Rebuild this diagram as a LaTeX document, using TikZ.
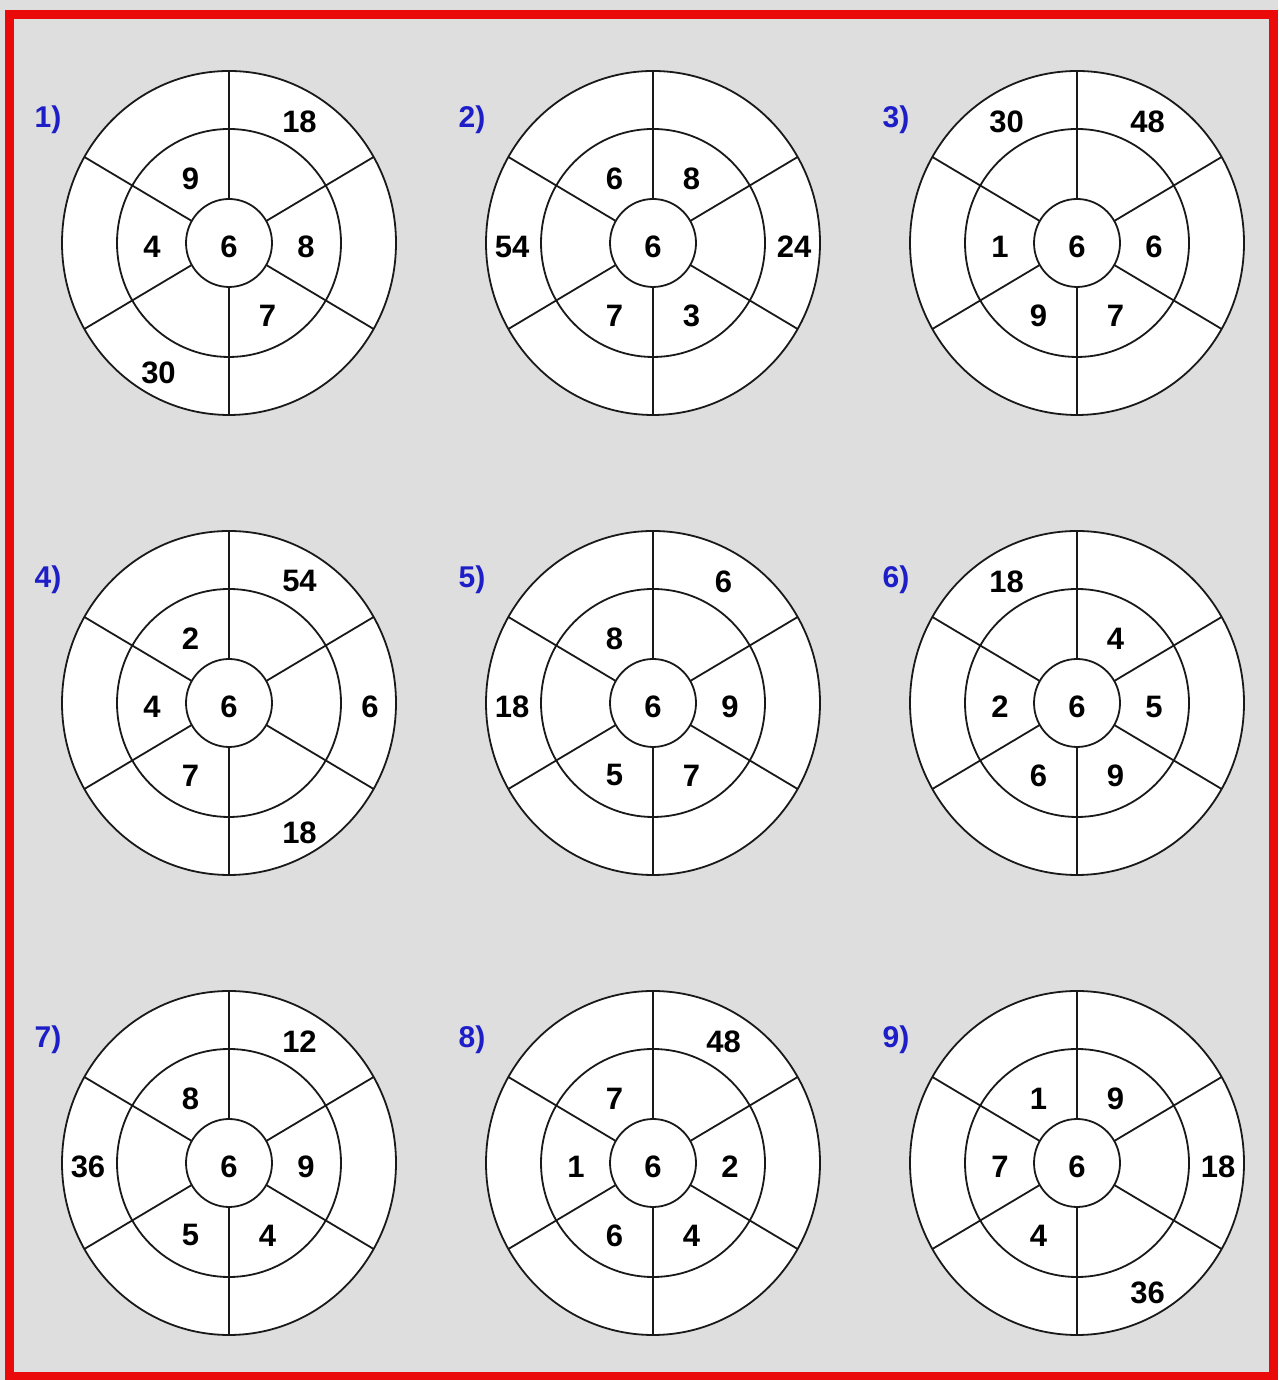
\documentclass[tikz,border=0pt]{standalone}
\usepackage{fontspec}
\setmainfont{Liberation Sans}
\usetikzlibrary{calc}
\definecolor{paper}{RGB}{222,222,222}
\definecolor{tagblue}{RGB}{30,30,200}
\definecolor{framered}{RGB}{235,10,10}

\begin{document}
\begin{tikzpicture}[
    x=1pt, y=1pt,
    ring/.style={draw=black!90, line width=1.8pt, fill=white},
    spoke/.style={draw=black!90, line width=1.8pt},
    num/.style={font=\fontsize{31}{36}\selectfont\bfseries, inner sep=0pt, yshift=-4pt},
    tag/.style={font=\fontsize{30}{36}\selectfont\bfseries, text=tagblue, inner sep=0pt, yshift=-2pt},
    wheel/.pic={
      \draw[ring] (0,0) ellipse [x radius=167pt, y radius=172pt];
      \draw[ring] (0,0) ellipse [x radius=112pt, y radius=114pt];
      \draw[ring] (0,0) ellipse [x radius=43pt, y radius=44pt];
      \foreach \a in {90,30,-30,-90,-150,150}
        \draw[spoke] (\a:43pt and 44pt) -- (\a:167pt and 172pt);
    }
]
\useasboundingbox (0,0) rectangle (1278,1380);
% Background and frame
\fill[paper] (0,0) rectangle (1278,1380);
\draw[framered, line width=9pt] (9.5,3) rectangle (1273.5,1365);
% Wheels
\foreach \i/\cx/\cy in {1/229/1137, 2/653/1137, 3/1077/1137,
                        4/229/677, 5/653/677, 6/1077/677,
                        7/229/217, 8/653/217, 9/1077/217} {
  \coordinate (w\i) at (\cx,\cy);
  \pic at (w\i) {wheel};
  \node[num] (w\i c) at (w\i) {6};
  \node[tag] (t\i) at ($(w\i)+(-181,125)$) {\i)};
}
% Middle ring numbers
\foreach \w/\a/\t in {1/120/9, 1/0/8, 1/-60/7, 1/180/4,
                      2/120/6, 2/60/8, 2/-60/3, 2/-120/7,
                      3/180/1, 3/0/6, 3/-120/9, 3/-60/7,
                      4/120/2, 4/180/4, 4/-120/7,
                      5/120/8, 5/0/9, 5/-120/5, 5/-60/7,
                      6/60/4, 6/180/2, 6/0/5, 6/-120/6, 6/-60/9,
                      7/120/8, 7/0/9, 7/-120/5, 7/-60/4,
                      8/120/7, 8/180/1, 8/0/2, 8/-120/6, 8/-60/4,
                      9/120/1, 9/60/9, 9/180/7, 9/-120/4}
  \node[num] (w\w m\a) at ($(w\w)+(\a:77pt and 79pt)$) {\t};
% Outer ring numbers
\foreach \w/\a/\t in {1/60/18, 1/-120/30,
                      2/180/54, 2/0/24,
                      3/120/30, 3/60/48,
                      4/60/54, 4/0/6, 4/-60/18,
                      5/60/6, 5/180/18,
                      6/120/18,
                      7/60/12, 7/180/36,
                      8/60/48,
                      9/0/18, 9/-60/36}
  \node[num] (w\w o\a) at ($(w\w)+(\a:141pt and 145pt)$) {\t};
\end{tikzpicture}
\end{document}
